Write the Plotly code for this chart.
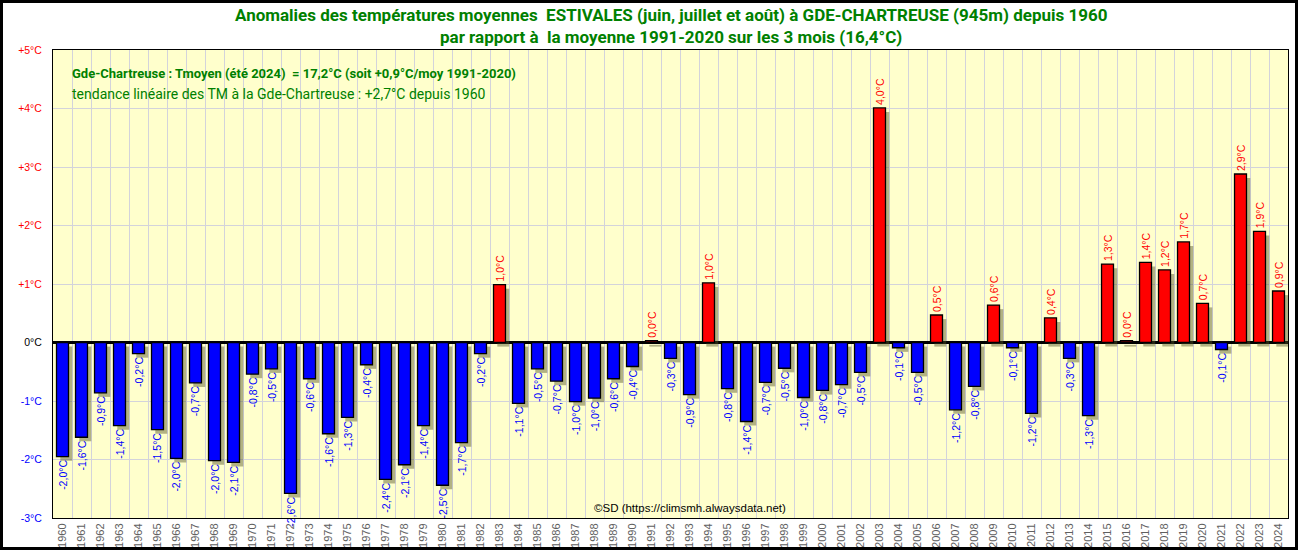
import plotly.graph_objects as go

years = ["1960", "1961", "1962", "1963", "1964", "1965", "1966", "1967", "1968", "1969",
         "1970", "1971", "1972", "1973", "1974", "1975", "1976", "1977", "1978", "1979",
         "1980", "1981", "1982", "1983", "1984", "1985", "1986", "1987", "1988", "1989",
         "1990", "1991", "1992", "1993", "1994", "1995", "1996", "1997", "1998", "1999",
         "2000", "2001", "2002", "2003", "2004", "2005", "2006", "2007", "2008", "2009",
         "2010", "2011", "2012", "2013", "2014", "2015", "2016", "2017", "2018", "2019",
         "2020", "2021", "2022", "2023", "2024"]

anomalies = [-1.95, -1.62, -0.86, -1.42, -0.19, -1.49, -1.98, -0.69, -2.02, -2.05,
             -0.54, -0.45, -2.58, -0.62, -1.56, -1.28, -0.38, -2.34, -2.09, -1.42,
             -2.44, -1.71, -0.19, 0.99, -1.04, -0.45, -0.66, -1.01, -0.95, -0.62,
             -0.41, 0.03, -0.27, -0.89, 1.02, -0.79, -1.35, -0.68, -0.44, -0.94,
             -0.82, -0.72, -0.51, 4.01, -0.09, -0.51, 0.47, -1.15, -0.75, 0.64,
             -0.09, -1.21, 0.42, -0.27, -1.25, 1.34, 0.03, 1.37, 1.24, 1.72,
             0.67, -0.12, 2.88, 1.90, 0.88]

value_labels = ["-2,0", "-1,6", "-0,9", "-1,4", "-0,2", "-1,5", "-2,0", "-0,7", "-2,0", "-2,1",
                "-0,8", "-0,5", "-2,6", "-0,6", "-1,6", "-1,3", "-0,4", "-2,4", "-2,1", "-1,4",
                "-2,5", "-1,7", "-0,2", "1,0", "-1,1", "-0,5", "-0,7", "-1,0", "-1,0", "-0,6",
                "-0,4", "0,0", "-0,3", "-0,9", "1,0", "-0,8", "-1,4", "-0,7", "-0,5", "-1,0",
                "-0,8", "-0,7", "-0,5", "4,0", "-0,1", "-0,5", "0,5", "-1,2", "-0,8", "0,6",
                "-0,1", "-1,2", "0,4", "-0,3", "-1,3", "1,3", "0,0", "1,4", "1,2", "1,7",
                "0,7", "-0,1", "2,9", "1,9", "0,9"]

y_ticks = [-3, -2, -1, 0, 1, 2, 3, 4, 5]
y_tick_labels = ["-3°C", "-2°C", "-1°C", "0°C", "+1°C", "+2°C", "+3°C", "+4°C", "+5°C"]

title_line1 = "Anomalies des températures moyennes  ESTIVALES (juin, juillet et août) à GDE-CHARTREUSE (945m) depuis 1960"
title_line2 = "par rapport à  la moyenne 1991-2020 sur les 3 mois (16,4°C)"
info_line1 = "Gde-Chartreuse : Tmoyen (été 2024)  = 17,2°C (soit +0,9°C/moy 1991-2020)"
info_line2 = "tendance linéaire des TM à la Gde-Chartreuse : +2,7°C depuis 1960"
credit = "©SD (https://climsmh.alwaysdata.net)"

RED = "#FF0000"
BLUE = "#0000FF"
GREEN = "#008000"

bar_colors = [RED if v >= 0 else BLUE for v in anomalies]
text_colors = [RED if v >= 0 else BLUE for v in anomalies]
texts = [s + "°C" for s in value_labels]

def tick_color(v):
    if v > 0:
        return RED
    if v < 0:
        return BLUE
    return "black"

y_tick_text = ['<span style="color:%s">%s</span>' % (tick_color(v), t)
               for v, t in zip(y_ticks, y_tick_labels)]

W = 0.63
fig = go.Figure()

# drop shadow
fig.add_trace(go.Bar(
    x=years, y=anomalies, base=-0.07,
    width=W, offset=-W / 2 + 0.2,
    marker=dict(color="rgba(85,85,40,0.45)", line=dict(width=0)),
    hoverinfo="skip",
))

# main bars
fig.add_trace(go.Bar(
    x=years, y=anomalies,
    width=W, offset=-W / 2,
    marker=dict(color=bar_colors, line=dict(color="black", width=1.3)),
    text=texts, textposition="outside", textangle=-90,
    textfont=dict(family="Liberation Sans", size=10.5, color=text_colors),
    constraintext="none", cliponaxis=False,
    hoverinfo="skip",
))

PL, PR, PT, PB = 53, 10, 50, 32
W_FIG, H_FIG = 1298, 550
pw = W_FIG - PL - PR
ph = H_FIG - PT - PB

def px_x(x):
    return (x - PL) / pw

def px_y(y):
    return (H_FIG - PB - y) / ph

fig.update_layout(
    width=W_FIG, height=H_FIG, autosize=False,
    margin=dict(l=PL, r=PR, t=PT, b=PB, pad=0, autoexpand=False),
    paper_bgcolor="white", plot_bgcolor="#FFFFCC",
    barmode="overlay", showlegend=False, hovermode=False,
    xaxis=dict(
        type="category", range=[-0.5, len(years) - 0.5],
        tickson="boundaries", ticks="", automargin=False,
        showgrid=True, gridcolor="#D3D3DB", gridwidth=1,
        tickangle=-90,
        tickfont=dict(family="Liberation Sans", size=11, color="#606060"),
        showline=True, linecolor="black", linewidth=1, mirror=True,
    ),
    yaxis=dict(
        range=[-3, 5], tickvals=y_ticks, ticktext=y_tick_text, automargin=False,
        showgrid=True, gridcolor="#D3D3DB", gridwidth=1,
        zeroline=True, zerolinecolor="black", zerolinewidth=2.5,
        ticks="outside", ticklen=8, tickcolor="rgba(0,0,0,0)",
        tickfont=dict(family="Liberation Sans", size=10.5),
        showline=True, linecolor="black", linewidth=1, mirror=True,
    ),
    annotations=[
        dict(text="<b>" + title_line1 + "</b>", xref="paper", yref="paper",
             x=0.5, y=px_y(15), xanchor="center", yanchor="middle",
             showarrow=False, font=dict(family="Roboto", size=17, color=GREEN)),
        dict(text="<b>" + title_line2 + "</b>", xref="paper", yref="paper",
             x=0.5, y=px_y(37), xanchor="center", yanchor="middle",
             showarrow=False, font=dict(family="Roboto", size=17, color=GREEN)),
        dict(text="<b>" + info_line1 + "</b>", xref="paper", yref="paper",
             x=px_x(70), y=px_y(73), xanchor="left", yanchor="middle",
             showarrow=False, font=dict(family="Roboto", size=13, color=GREEN)),
        dict(text=info_line2, xref="paper", yref="paper",
             x=px_x(70), y=px_y(94), xanchor="left", yanchor="middle",
             showarrow=False, font=dict(family="Roboto", size=14, color=GREEN)),
        dict(text=credit, xref="paper", yref="paper",
             x=px_x(690), y=px_y(508), xanchor="center", yanchor="middle",
             showarrow=False, font=dict(family="Liberation Sans", size=11.5, color="black")),
    ],
    shapes=[
        dict(type="rect", xref="paper", yref="paper",
             x0=px_x(1.5), x1=px_x(W_FIG - 1.5), y0=px_y(H_FIG - 1.5), y1=px_y(1.5),
             line=dict(color="black", width=3), fillcolor="rgba(0,0,0,0)", layer="above"),
    ],
)

fig.write_html("out.html", config={"displayModeBar": False},
               post_script="document.body.style.margin='0';document.body.style.overflow='hidden';")
